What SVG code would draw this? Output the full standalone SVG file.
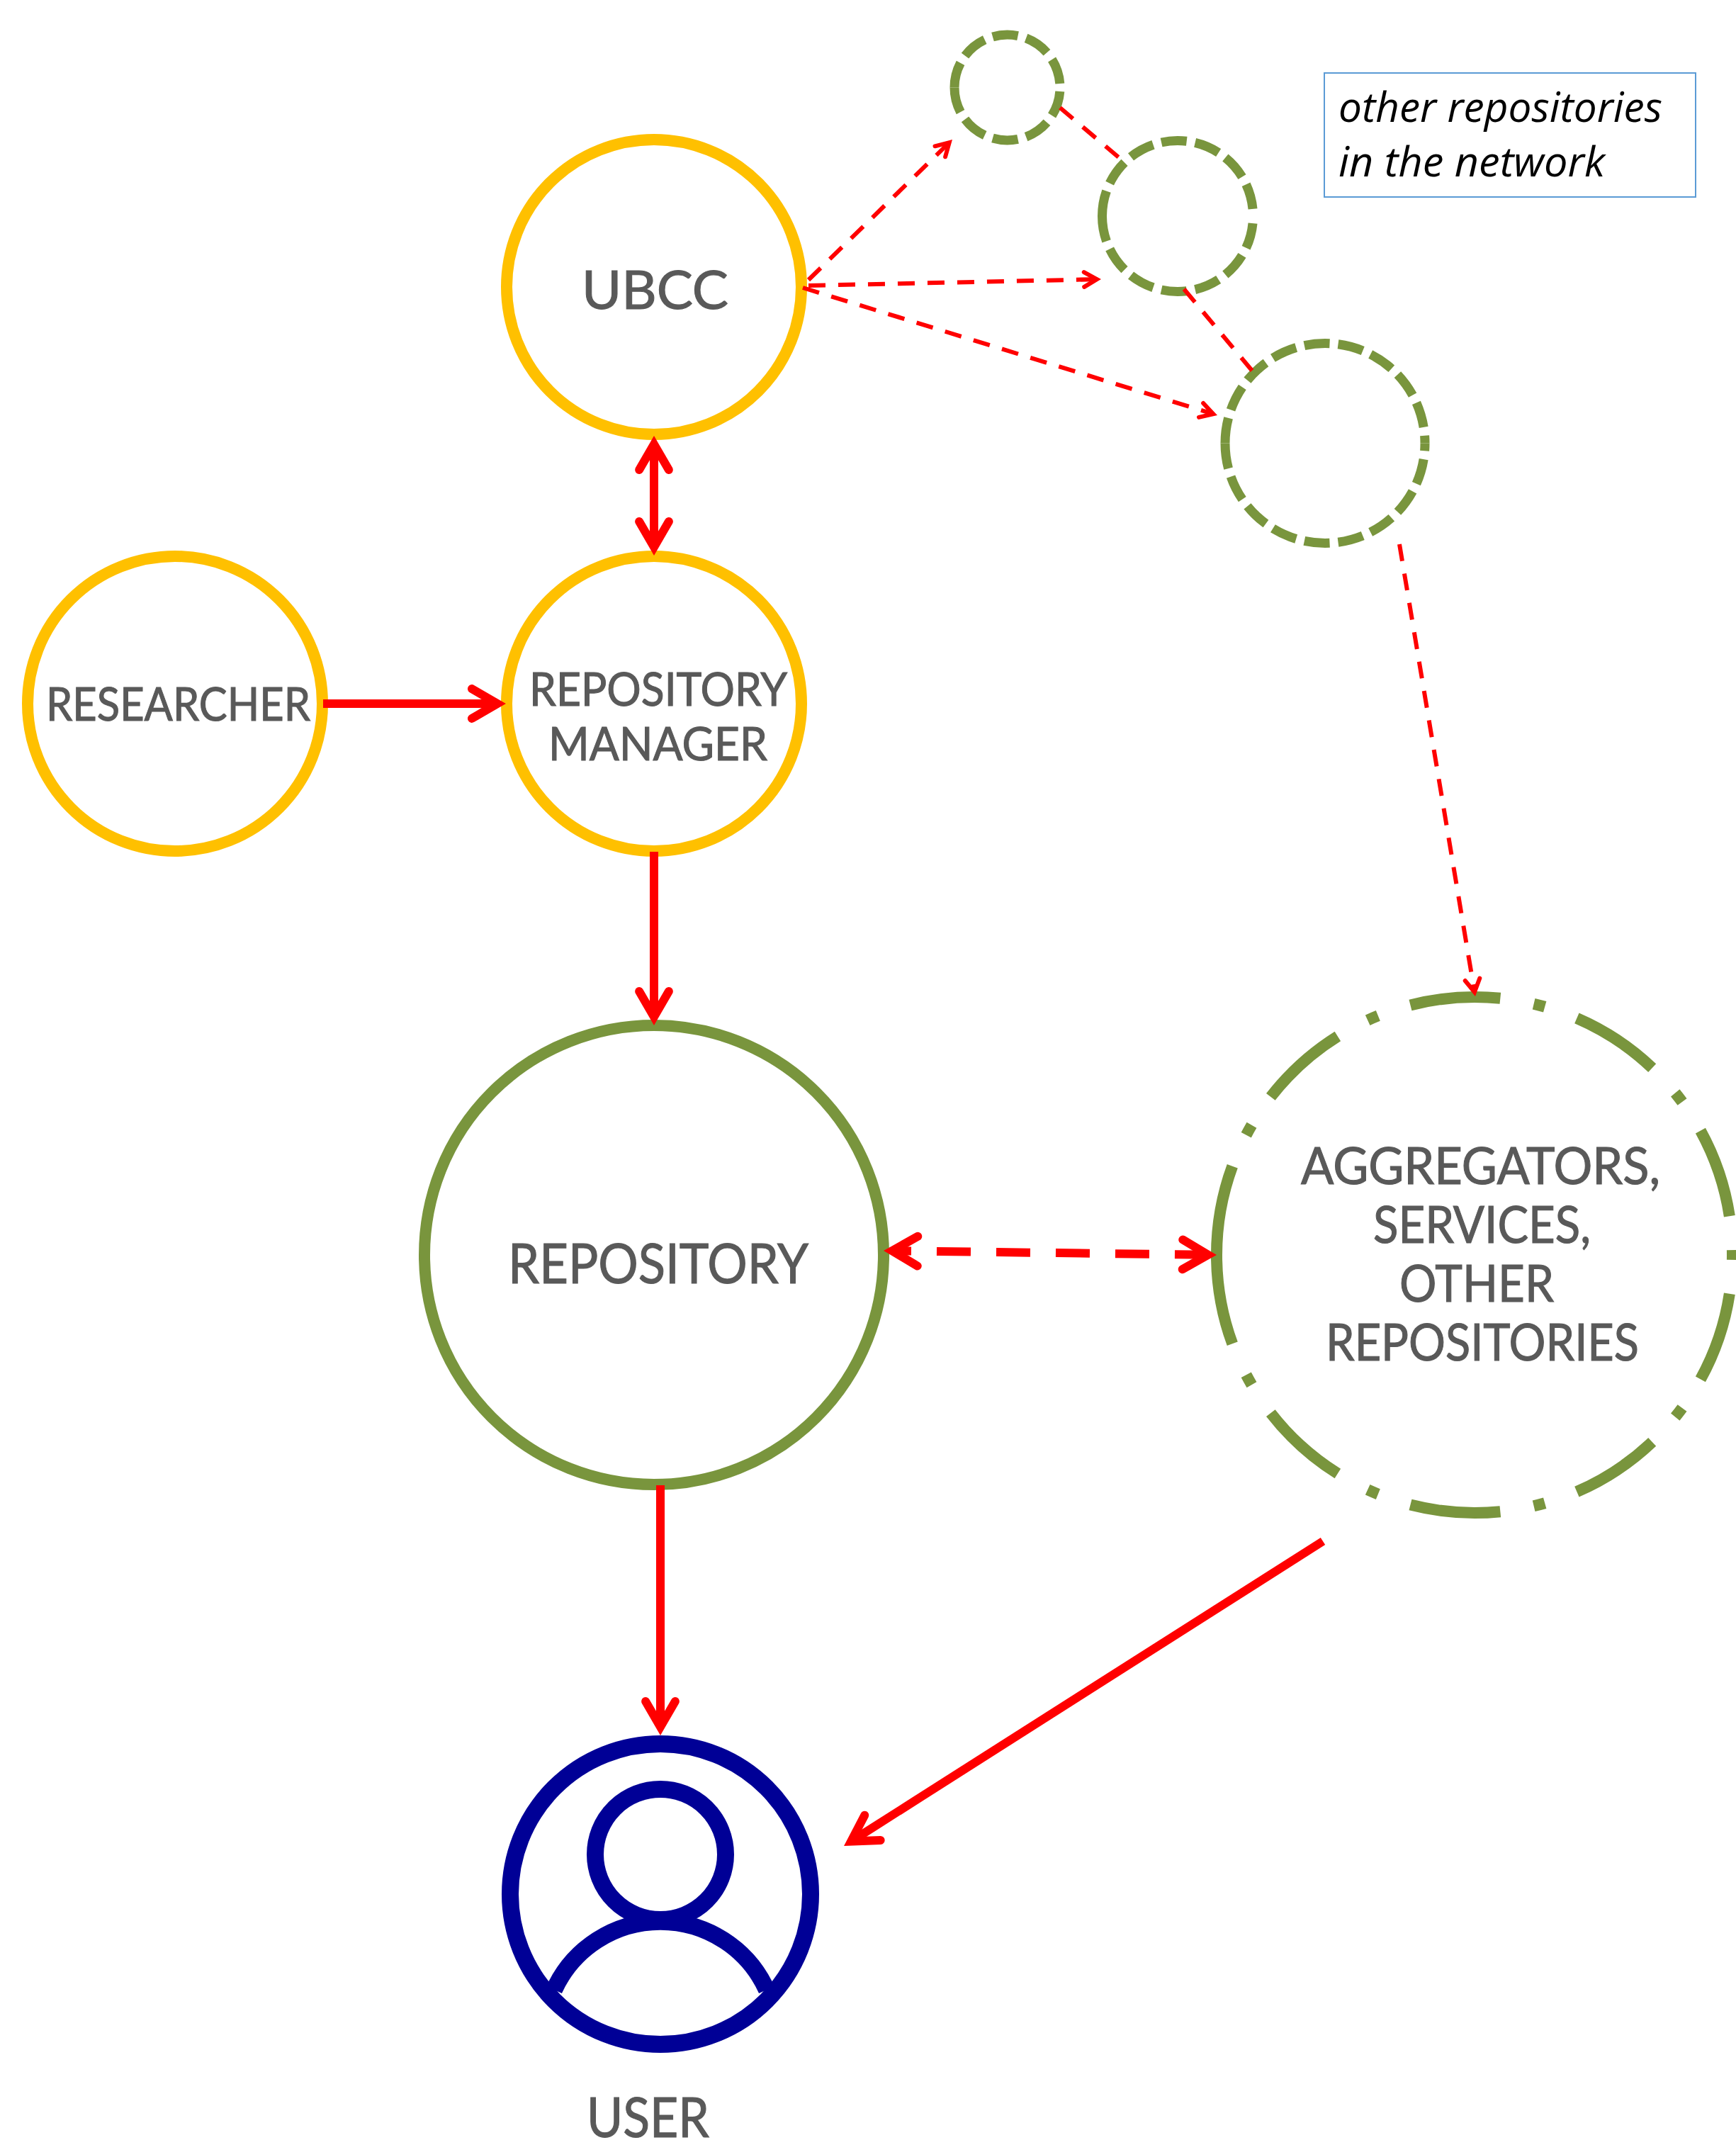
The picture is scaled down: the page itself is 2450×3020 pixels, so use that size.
<svg xmlns="http://www.w3.org/2000/svg" width="2450" height="3020" viewBox="0 0 2450 3020">
<style>
.bg{fill:#fff}
.gold{fill:#fff;stroke:#FFC000;stroke-width:16}
.green{fill:#fff;stroke:#79953D;stroke-width:16}
.sm{fill:none;stroke:#79953D;stroke-width:13;stroke-dasharray:36 12}
.ldd{fill:none;stroke:#79953D;stroke-width:16;stroke-dasharray:128 48 16 48}
.blue{fill:none;stroke:#000096;stroke-width:24}
.lbl{font-family:"Lato","Liberation Sans",sans-serif;fill:#595959;stroke:#595959;stroke-width:1.1}
.note{font-family:"Open Sans","Liberation Sans",sans-serif;font-style:italic;font-size:58px;fill:#000}
.solid{fill:none;stroke:#f00;stroke-width:12}
.dash{fill:none;stroke:#f00;stroke-width:6;stroke-dasharray:24 18}
.thick{fill:none;stroke:#f00;stroke-width:12;stroke-dasharray:48 36;stroke-dashoffset:21}
.arrow{marker-end:url(#a)}
.both{marker-start:url(#a);marker-end:url(#a)}
</style>
<defs>
<marker id="a" viewBox="-6 -4 8 8" refX="0" refY="0" markerWidth="8" markerHeight="8" markerUnits="strokeWidth" orient="auto-start-reverse" overflow="visible">
<path d="M-3,-1.74 L0,0 L-3,1.74" fill="none" stroke="#f00" stroke-width="1" stroke-linecap="round" stroke-linejoin="miter" stroke-miterlimit="10"/>
</marker>
</defs>
<rect class="bg" width="2450" height="3020"/>
<g id="node-ubcc"><circle class="gold" cx="923" cy="405" r="208"/><text class="lbl" x="821" y="436" font-size="76" textLength="207" lengthAdjust="spacingAndGlyphs">UBCC</text></g>
<g id="node-researcher"><circle class="gold" cx="247" cy="993" r="208"/><text class="lbl" x="65" y="1017" font-size="66" textLength="373" lengthAdjust="spacingAndGlyphs">RESEARCHER</text></g>
<g id="node-manager"><circle class="gold" cx="923" cy="993" r="208"/><text class="lbl" x="747" y="996" font-size="66" textLength="364" lengthAdjust="spacingAndGlyphs">REPOSITORY</text><text class="lbl" x="774" y="1073" font-size="66" textLength="309" lengthAdjust="spacingAndGlyphs">MANAGER</text></g>
<g id="node-repository"><circle class="green" cx="923" cy="1771" r="324"/><text class="lbl" x="717" y="1811" font-size="78" textLength="424" lengthAdjust="spacingAndGlyphs">REPOSITORY</text></g>
<g id="node-other1"><path class="sm" d="M1347,123.5 A74.5,74.5 0 0 1 1496,123.5"/><path class="sm" d="M1347,123.5 A74.5,74.5 0 0 0 1496,123.5"/></g>
<g id="node-other2"><path class="sm" d="M1555.5,305 A106.5,106.5 0 0 1 1768.5,305"/><path class="sm" d="M1555.5,305 A106.5,106.5 0 0 0 1768.5,305"/></g>
<g id="node-other3"><path class="sm" d="M1729,625.5 A141,141 0 0 1 2011,625.5"/><path class="sm" d="M1729,625.5 A141,141 0 0 0 2011,625.5"/></g>
<g id="node-aggregators"><path class="ldd" d="M1717,1771 A364,364 0 0 1 2445,1771"/><path class="ldd" d="M1717,1771 A364,364 0 0 0 2445,1771"/>
<text class="lbl" x="1836" y="1671" font-size="72" textLength="507" lengthAdjust="spacingAndGlyphs">AGGREGATORS,</text>
<text class="lbl" x="1938" y="1754" font-size="72" textLength="307" lengthAdjust="spacingAndGlyphs">SERVICES,</text>
<text class="lbl" x="1975" y="1837" font-size="72" textLength="218" lengthAdjust="spacingAndGlyphs">OTHER</text>
<text class="lbl" x="1871" y="1920" font-size="72" textLength="442" lengthAdjust="spacingAndGlyphs">REPOSITORIES</text></g>
<g id="node-user"><circle class="blue" cx="932" cy="2673" r="212"/><circle class="blue" cx="932" cy="2617" r="92"/><path class="blue" d="M782,2808 A165,165 0 0 1 1082,2808"/><text class="lbl" x="828" y="3016" font-size="78" textLength="173" lengthAdjust="spacingAndGlyphs">USER</text></g>
<g id="note"><rect x="1869" y="103" width="524" height="175" fill="#fff" stroke="#5B9BD5" stroke-width="2"/><text class="note" x="1889" y="172" textLength="457" lengthAdjust="spacingAndGlyphs">other repositories</text><text class="note" x="1889" y="249" textLength="376" lengthAdjust="spacingAndGlyphs">in the network</text></g>
<g id="connectors">
<path class="solid both" d="M923,627 L923,772"/>
<path class="solid arrow" d="M456,993 L702,993"/>
<path class="solid arrow" d="M923,1202 L923,1435"/>
<path class="solid arrow" d="M932,2096 L932,2437"/>
<path class="solid arrow" d="M1867,2175 L1201.1,2598.6"/>
<path class="thick both" d="M1259,1765.2 L1705,1770.8"/>
<path class="dash arrow" d="M1141,395 L1339.7,201.2"/>
<path class="dash arrow" d="M1141,403 L1548,394.1"/>
<path class="dash arrow" d="M1133,406 L1712.3,584.2"/>
<path class="dash" d="M1496,152 L1581,224"/>
<path class="dash" d="M1671,408 L1767,523"/>
<path class="dash arrow" d="M1975,768 L2081,1400"/>
</g>
</svg>
